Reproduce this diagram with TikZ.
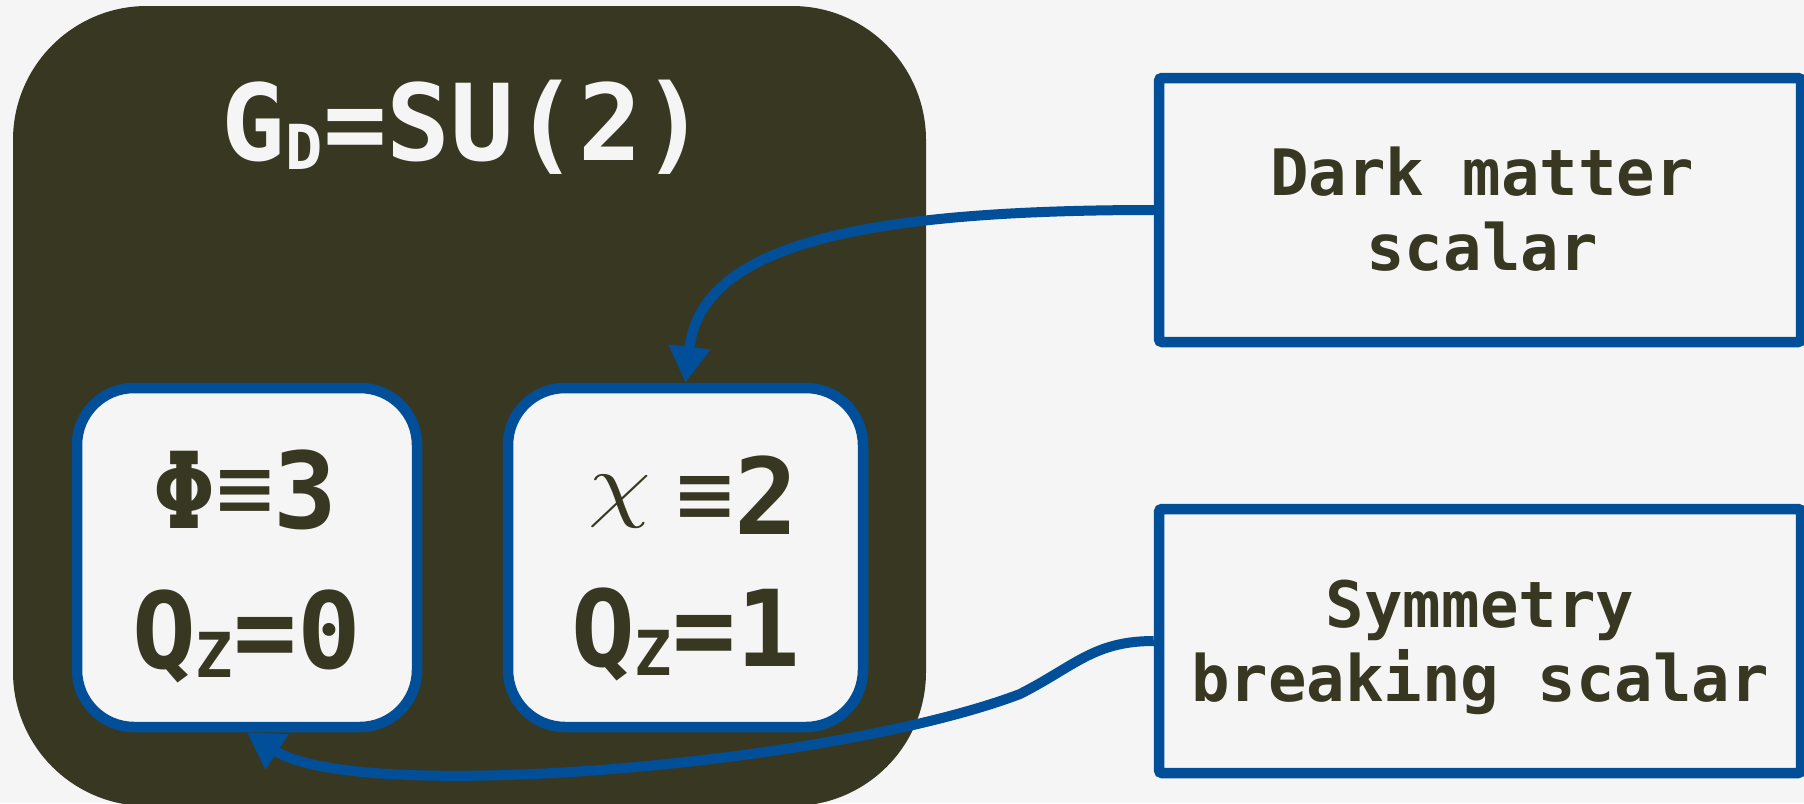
\documentclass[tikz,border=0pt]{standalone}
\usepackage{graphicx}
\usepackage{fontspec}
\newfontfamily\monofont{DejaVu Sans Mono}
\usetikzlibrary{arrows.meta}
\definecolor{bg}{HTML}{F5F5F5}
\definecolor{olive}{HTML}{383822}
\definecolor{edge}{HTML}{004F98}
\newcommand\lowsub[1]{\raisebox{-9pt}{\fontsize{62}{62}\selectfont #1}}
\newcommand\triplebar{\raisebox{15pt}{\scalebox{0.9}[0.68]{≡}}}
\newcommand\bigchi{\raisebox{23pt}{\scalebox{10}[8.4]{\fontsize{10}{10}\selectfont$\chi$}}}
\tikzset{
  groupbox/.style={fill=olive, rounded corners=134pt, inner sep=0pt},
  chargebox/.style={draw=edge, line width=10.5pt, fill=bg, rounded corners=57pt, inner sep=0pt, minimum height=339pt},
  fieldbox/.style={draw=edge, line width=10.5pt, fill=bg, rounded corners=3pt, minimum width=642pt, minimum height=264pt, inner sep=0pt},
  bigtxt/.style={anchor=base, inner sep=0pt, text=olive, font=\monofont\bfseries\fontsize{106}{106}\selectfont},
  smalltxt/.style={anchor=base, inner sep=0pt, text=olive, font=\monofont\bfseries\fontsize{64}{64}\selectfont},
  link/.style={draw=edge, line width=10pt, -{Triangle[length=36pt,width=40pt]}},
}
\begin{document}
\begin{tikzpicture}[x=1pt,y=-1pt]
\fill[bg] (0,0) rectangle (1804,803);
\useasboundingbox (0,0) rectangle (1804,803);

% gauge group container
\node[groupbox, minimum width=913pt, minimum height=800pt] (gd) at (469.5,406) {};
\node[bigtxt, text=bg] (title) at (464,160) {G\lowsub{D}=SU(2)};

% the two multiplets
\node[chargebox, minimum width=340pt] (lb) at (247,557.5) {};
\node[chargebox, minimum width=355pt] (rb) at (685.5,557.5) {};
\node[bigtxt] (phi) at (245,528) {Φ\triplebar 3};
\node[bigtxt] (lq) at (246.5,668) {Q\lowsub{Z}=0};
\node[bigtxt] (chi) at (693,534) {\bigchi\hspace{26pt}\triplebar 2};
\node[bigtxt] (rq) at (685.5,666) {Q\lowsub{Z}=1};

% field descriptions
\node[fieldbox] (dm) at (1480,210) {};
\node[smalltxt] (dm1) at (1482,195) {Dark matter};
\node[smalltxt] (dm2) at (1482,270) {scalar};
\node[fieldbox] (sb) at (1480,641) {};
\node[smalltxt] (sb1) at (1480,627) {Symmetry};
\node[smalltxt] (sb2) at (1480,701) {breaking scalar};

% connectors
\coordinate (bend) at (1020,694);
\draw[link] (dm.west) .. controls +(-310,0) and +(15,-133) .. (rb.north);
\draw[link] (sb.west) .. controls +(-60,0) and +(55,-28) .. (bend)
  .. controls +(-190,72) and +(110,72) .. (lb.south);
\end{tikzpicture}
\end{document}
